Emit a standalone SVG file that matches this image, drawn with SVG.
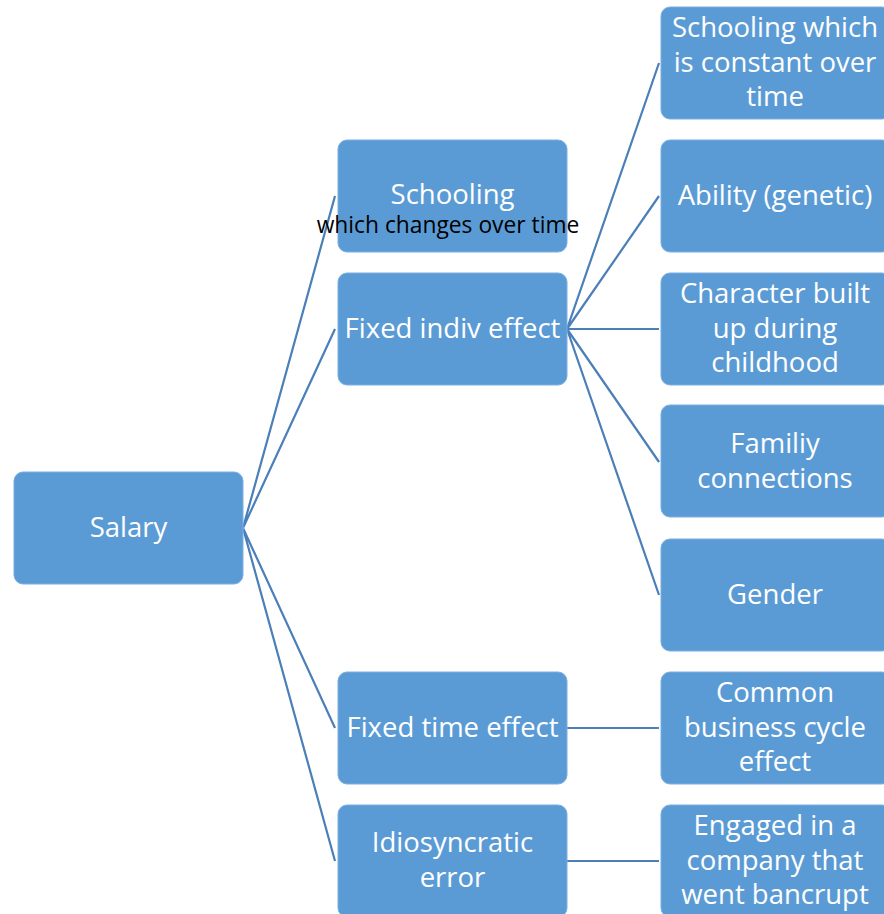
<svg xmlns="http://www.w3.org/2000/svg" width="884" height="914" viewBox="0 0 884 914">
<style>
.box{fill:#5b9bd5;stroke:#7aaee0;stroke-width:1}
.t{font-family:"Open Sans","Liberation Sans",sans-serif;font-size:27.5px;fill:#fff;text-anchor:middle}
.s{font-family:"Open Sans","Liberation Sans",sans-serif;font-size:22.8px;fill:#000;text-anchor:middle}
.c{stroke:#4a7fb8;stroke-width:2.2;fill:none}
</style>
<rect width="884" height="914" fill="#fff"/>
<g id="connectors">
<path class="c" d="M243 528L335 196M243 528L335 329M243 528L335 728M243 528L335 861"/>
<path class="c" d="M567 329L659 63M567 329L659 196M567 329L659 329M567 329L659 462M567 329L659 595"/>
<path class="c" d="M567 728L659 728M567 861L659 861"/>
</g>
<g id="salary"><rect class="box" x="14" y="472" width="229" height="112" rx="9"/><text class="t" x="128.5" y="537">Salary</text></g>
<g id="schooling"><rect class="box" x="338" y="140" width="229" height="112" rx="9"/><text class="t" x="452.5" y="204">Schooling</text><text class="s" x="448" y="233">which changes over time</text></g>
<g id="fixed-indiv"><rect class="box" x="338" y="273" width="229" height="112" rx="9"/><text class="t" x="452.5" y="338">Fixed indiv effect</text></g>
<g id="fixed-time"><rect class="box" x="338" y="672" width="229" height="112" rx="9"/><text class="t" x="452.5" y="737">Fixed time effect</text></g>
<g id="idiosyncratic"><rect class="box" x="338" y="805" width="229" height="112" rx="9"/><text class="t" x="452.5" y="852">Idiosyncratic</text><text class="t" x="452.5" y="887">error</text></g>
<g id="schooling-constant"><rect class="box" x="661" y="7" width="230" height="112" rx="9"/><text class="t" x="775" y="37">Schooling which</text><text class="t" x="775" y="72">is constant over</text><text class="t" x="775" y="106">time</text></g>
<g id="ability"><rect class="box" x="661" y="140" width="230" height="112" rx="9"/><text class="t" x="775" y="205">Ability (genetic)</text></g>
<g id="character"><rect class="box" x="661" y="273" width="230" height="112" rx="9"/><text class="t" x="775" y="303">Character built</text><text class="t" x="775" y="338">up during</text><text class="t" x="775" y="372">childhood</text></g>
<g id="family"><rect class="box" x="661" y="405" width="230" height="112" rx="9"/><text class="t" x="775" y="453">Familiy</text><text class="t" x="775" y="488">connections</text></g>
<g id="gender"><rect class="box" x="661" y="539" width="230" height="112" rx="9"/><text class="t" x="775" y="604">Gender</text></g>
<g id="business-cycle"><rect class="box" x="661" y="672" width="230" height="112" rx="9"/><text class="t" x="775" y="702">Common</text><text class="t" x="775" y="737">business cycle</text><text class="t" x="775" y="771">effect</text></g>
<g id="bankrupt"><rect class="box" x="661" y="805" width="230" height="112" rx="9"/><text class="t" x="775" y="835">Engaged in a</text><text class="t" x="775" y="870">company that</text><text class="t" x="775" y="904">went bancrupt</text></g>
</svg>
